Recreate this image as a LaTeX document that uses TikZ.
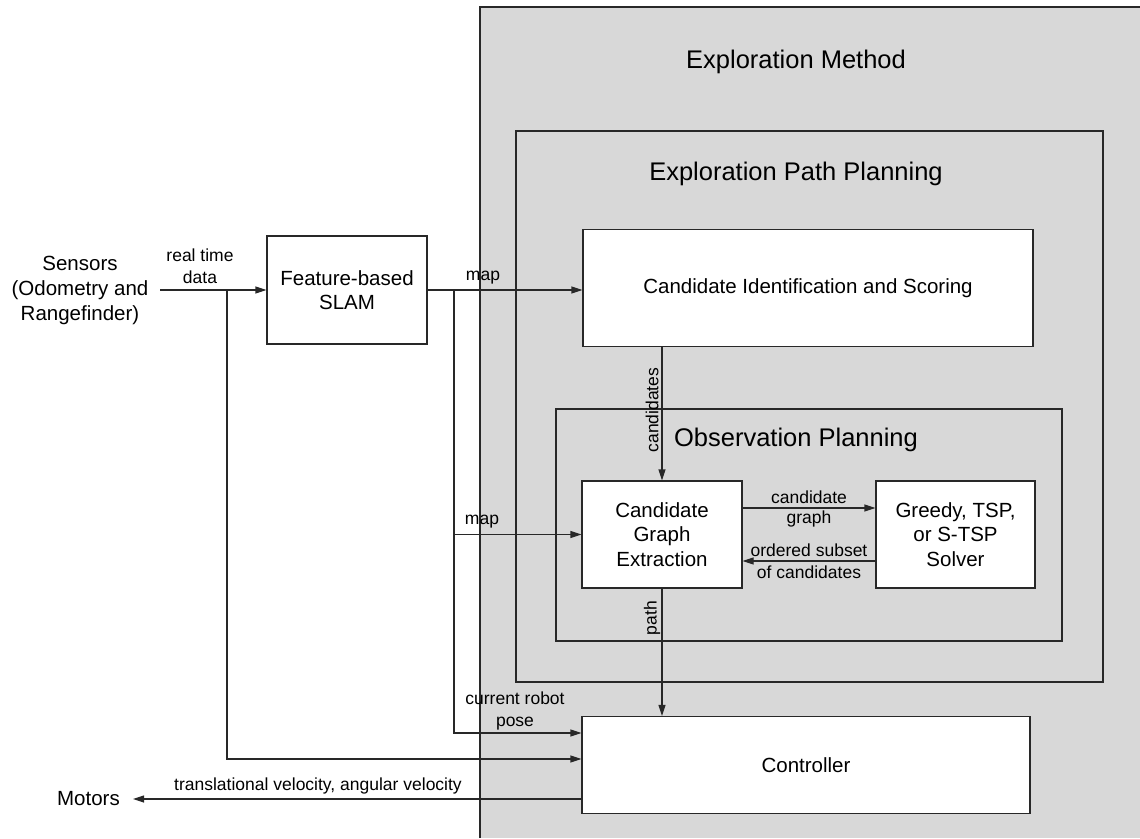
\documentclass[tikz,border=0pt]{standalone}
\usepackage{fontspec}
\setmainfont{Liberation Sans}
\usetikzlibrary{arrows.meta,calc}
\definecolor{bg}{RGB}{216,216,216}
\definecolor{ln}{RGB}{40,40,40}
\begin{document}
\begin{tikzpicture}[x=1pt,y=-1pt,
  box/.style={draw=ln, fill=white, line width=1.1pt, inner sep=0pt, align=center, font=\fontsize{20.5}{24.5}\selectfont},
  plain/.style={inner sep=0pt, align=center, font=\fontsize{20.5}{25}\selectfont},
  ttl/.style={font=\fontsize{25.5}{30}\selectfont, inner sep=0pt},
  lbl/.style={font=\fontsize{17.5}{21.5}\selectfont, inner sep=0pt, align=center},
  arr/.style={draw=ln, line width=1.1pt, -{Triangle[length=11pt,width=7pt]}},
  frame/.style={draw=ln, line width=1.1pt}]
\useasboundingbox (0,0) rectangle (1140,838);
% containers
\fill[bg] (480,7) rectangle (1140,838);
\draw[frame] (480,838) -- (480,7) -- (1140,7);
\draw[frame] (516,131) rectangle (1103,682);
\draw[frame] (556,409) rectangle (1062,641);
\node[ttl] (tEM) at (796,62) {Exploration Method};
\node[ttl] (tPP) at (796,174) {Exploration Path Planning};
\node[ttl] (tOP) at (796,440) {Observation Planning};
% boxes
\node[box, minimum width=160pt, minimum height=108pt] (slam) at (347,290) {Feature-based\\SLAM};
\node[box, minimum width=450pt, minimum height=117pt] (cis) at (808,288) {Candidate Identification and Scoring};
\node[box, minimum width=160pt, minimum height=107pt] (cge) at (662,534.5) {Candidate\\Graph\\Extraction};
\node[box, minimum width=159pt, minimum height=107pt] (solver) at (955.5,534.5) {Greedy, TSP,\\or S-TSP\\Solver};
\node[box, minimum width=448pt, minimum height=97pt] (ctrl) at (806,765) {Controller};
\node[plain] (sensors) at (80,290) {Sensors\\(Odometry and\\Rangefinder)};
\node[plain, anchor=east, inner xsep=13pt] (motors) at (133,799) {Motors};
% junctions
\coordinate (s0) at (160,290);
\coordinate (j1) at (227,290);
\coordinate (j2) at (454,290);
\coordinate (j3) at (454,534.5);
% connectors
\draw[arr] (s0) -- (slam.west);
\draw[arr] (j1) |- ([yshift=6pt]ctrl.west);
\draw[arr] (slam.east) -- (slam.east -| cis.west);
\draw[arr] (j2) |- ([yshift=32pt]ctrl.west);
\draw[arr] (j3) -- (cge.west);
\draw[arr] (cis.south -| cge.north) -- (cge.north);
\draw[arr] ([yshift=26.5pt]cge.east) -- ([yshift=26.5pt]solver.west);
\draw[arr] ([yshift=-26.5pt]solver.west) -- ([yshift=-26.5pt]cge.east);
\draw[arr] (cge.south) -- (cge.south |- ctrl.north);
\draw[arr] ([yshift=-34pt]ctrl.west) -- (motors.east);
% labels
\node[lbl] (lRT) at (200,266) {real time\\data};
\node[lbl] (lMap1) at (483,278) {map};
\node[lbl] (lMap2) at (482,522) {map};
\node[lbl, rotate=90] (lCand) at (652,410) {candidates};
\node[lbl, rotate=90] (lPath) at (652,618) {path};
\node[lbl] (lCG1) at (809,497) {candidate};
\node[lbl] (lCG2) at (809,519) {graph};
\node[lbl] (lOS1) at (809,550) {ordered subset};
\node[lbl] (lOS2) at (809,572) {of candidates};
\node[lbl] (lPose) at (515,711) {current robot\\pose};
\node[lbl] (lVel) at (318,786) {translational velocity, angular velocity};
\end{tikzpicture}
\end{document}
